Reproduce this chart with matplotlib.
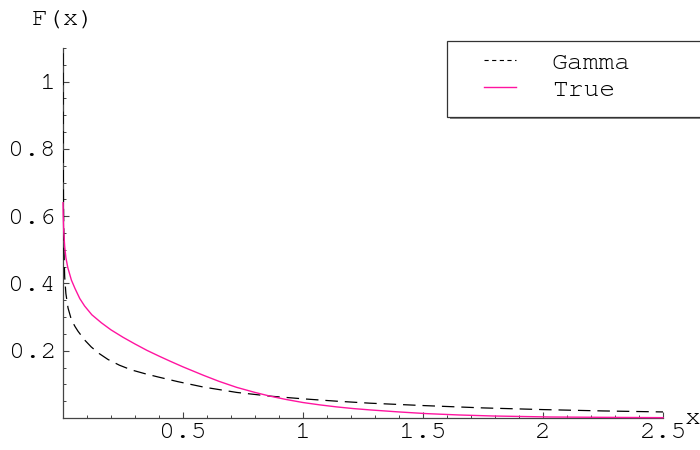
#!/usr/bin/env python3
"""Gamma approximation vs the true density F(x), drawn in the old Mathematica look."""

from __future__ import annotations

import matplotlib

matplotlib.use("Agg")
import matplotlib.pyplot as plt
from matplotlib.lines import Line2D
from matplotlib.patches import Rectangle
from matplotlib.ticker import MultipleLocator

OUT_PNG = "out.png"

# values
gamma_x = [0.0003, 0.0006, 0.001, 0.002, 0.004, 0.007, 0.012, 0.021, 0.035, 0.05, 0.0625,
           0.09, 0.118, 0.15, 0.1875, 0.235, 0.285, 0.34, 0.396, 0.479, 0.585, 0.724,
           0.8625, 1.0, 1.14, 1.28, 1.5, 1.75, 2.0, 2.25, 2.5]
gamma_y = [1.2, 0.95, 0.8, 0.64, 0.5, 0.42, 0.37, 0.327, 0.292, 0.272, 0.258,
           0.232, 0.211, 0.192, 0.174, 0.157, 0.143, 0.132, 0.122, 0.108, 0.092, 0.076,
           0.065, 0.057, 0.050, 0.044, 0.037, 0.030, 0.025, 0.021, 0.018]

true_x = [0.0, 0.001, 0.003, 0.007, 0.012, 0.02, 0.035, 0.05, 0.07, 0.09, 0.12, 0.16,
          0.20, 0.25, 0.30, 0.35, 0.40, 0.446, 0.50, 0.585, 0.65, 0.724, 0.80, 0.8625,
          0.93, 1.0, 1.07, 1.14, 1.21, 1.28, 1.4, 1.515, 1.65, 1.79, 2.03, 2.25, 2.5]
true_y = [0.64, 0.60, 0.555, 0.51, 0.477, 0.447, 0.41, 0.385, 0.355, 0.333, 0.307, 0.283,
          0.262, 0.240, 0.220, 0.201, 0.184, 0.169, 0.152, 0.127, 0.109, 0.091, 0.076, 0.065,
          0.055, 0.046, 0.039, 0.033, 0.028, 0.024, 0.018, 0.013, 0.009, 0.006, 0.003, 0.002,
          0.001]

x_ticks = [0.5, 1, 1.5, 2, 2.5]
x_ticklabels = ["0.5", "1", "1.5", "2", "2.5"]
y_ticks = [0.2, 0.4, 0.6, 0.8, 1.0]
y_ticklabels = ["0.2", "0.4", "0.6", "0.8", "1"]

series_labels = ["Gamma", "True"]

PINK = "#ff14a0"
AXIS = "#444444"
FONTS = ["Nimbus Mono PS", "Courier New", "FreeMono", "Liberation Mono", "DejaVu Sans"]
FS = 19

W, H = 700, 450  # pixels


def fx(px: float) -> float:
    return px / W


def fy(py: float) -> float:
    return 1 - py / H


def main() -> None:
    plt.rcParams["font.family"] = FONTS
    plt.rcParams["lines.scale_dashes"] = False

    fig = plt.figure(figsize=(7, 4.5), dpi=100)
    ax = fig.add_axes([fx(63), fy(418), fx(663) - fx(63), fy(48) - fy(418)])

    # drawn above the spines so the steep start hugging the y axis stays visible
    ax.plot(gamma_x, gamma_y, color="black", linewidth=0.9, dashes=(9, 5), zorder=3)
    ax.plot(true_x, true_y, color=PINK, linewidth=1.0, zorder=3, clip_on=False)

    ax.set_xlim(0, 2.5)
    ax.set_ylim(0, 1.1)

    for side in ("top", "right"):
        ax.spines[side].set_visible(False)
    for side in ("left", "bottom"):
        ax.spines[side].set_color(AXIS)
        ax.spines[side].set_linewidth(0.9)

    ax.set_xticks(x_ticks, x_ticklabels)
    ax.set_yticks(y_ticks, y_ticklabels)
    ax.xaxis.set_minor_locator(MultipleLocator(0.1))
    ax.yaxis.set_minor_locator(MultipleLocator(0.05))
    ax.tick_params(which="major", direction="in", length=4, width=0.8, color=AXIS,
                   labelsize=FS)
    ax.tick_params(axis="x", which="major", pad=3.5)
    ax.tick_params(axis="y", which="major", pad=5)
    ax.tick_params(which="minor", direction="in", length=2.2, width=0.7, color=AXIS)

    fig.text(fx(32), fy(25), "F(x)", fontsize=FS, ha="left", va="baseline")
    fig.text(fx(693), fy(419), "x", fontsize=FS, ha="center", va="center")

    # legend frame with a drop shadow, running off the right edge like the original
    shadow = Rectangle((fx(450), fy(119)), fx(300), fy(44) - fy(119), transform=fig.transFigure,
                       facecolor="#888888", edgecolor="none", zorder=5)
    frame = Rectangle((fx(447), fy(117)), fx(300), fy(41) - fy(117), transform=fig.transFigure,
                      facecolor="white", edgecolor="#333333", linewidth=0.9, zorder=6)
    fig.patches.extend([shadow, frame])

    handles = [
        Line2D([], [], color="black", linewidth=0.8, dashes=(3, 2.5)),
        Line2D([], [], color=PINK, linewidth=1.0),
    ]
    leg = fig.legend(handles, series_labels, loc="upper left",
                     bbox_to_anchor=(fx(484), fy(51)), frameon=False, fontsize=FS,
                     handlelength=1.22, handletextpad=1.35, labelspacing=0.12, borderpad=0,
                     borderaxespad=0)
    leg.set_zorder(7)

    fig.savefig(OUT_PNG, dpi=100)


if __name__ == "__main__":
    main()
